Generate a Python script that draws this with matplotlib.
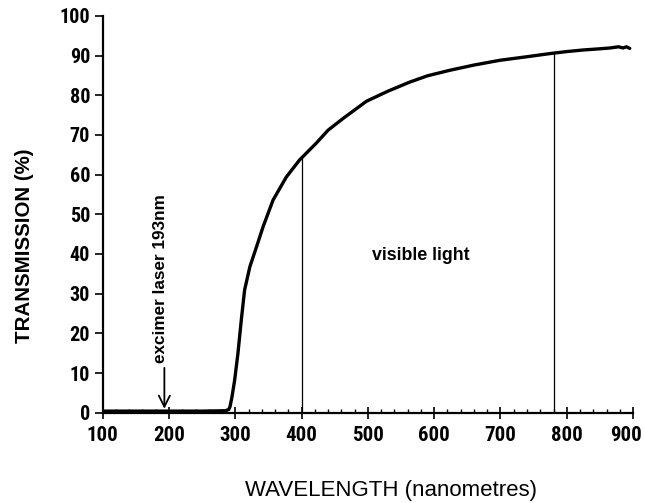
import matplotlib
matplotlib.use("Agg")
import matplotlib.pyplot as plt
from matplotlib import font_manager as fm
from matplotlib.transforms import ScaledTranslation
import numpy as np

# Data
wavelength = [100, 150, 200, 250, 285, 290, 292, 295, 299, 304, 309, 314, 322, 332, 342,
              357, 377, 397, 422, 440, 463, 498, 530, 563, 590, 624, 660, 699, 740,
              775, 800, 825, 850, 865, 878, 885, 890, 895]
transmission = [0.4, 0.4, 0.4, 0.4, 0.5, 0.8, 1.5, 4.0, 8.2, 15.0, 23.3, 30.9, 36.8, 41.8,
                46.9, 53.6, 59.4, 63.7, 67.9, 71.2, 74.2, 78.5, 81.0, 83.3, 84.9,
                86.3, 87.6, 88.8, 89.7, 90.5, 91.0, 91.4, 91.7, 91.9, 92.2, 91.9, 92.2, 91.8]
visible_bounds = [400, 780]
laser_nm = 193
x_ticks = [100, 200, 300, 400, 500, 600, 700, 800, 900]
y_ticks = [0, 10, 20, 30, 40, 50, 60, 70, 80, 90, 100]

names = {f.name for f in fm.fontManager.ttflist}
tick_family = "Liberation Sans"
for cand in ["Liberation Sans Narrow", "DejaVu Sans Condensed", "Roboto Condensed",
             "Open Sans Condensed"]:
    if cand in names:
        tick_family = cand
        break
narrow = tick_family != "Liberation Sans"

fig = plt.figure(figsize=(6.46, 5.03), dpi=100)
ax = fig.add_axes([0.159, 0.1795, 0.821, 0.789])

ax.plot(wavelength, transmission, color="black", lw=2.4, solid_capstyle="round",
        solid_joinstyle="round")
for b in visible_bounds:
    t = np.interp(b, wavelength, transmission)
    ax.plot([b, b], [0, t], color="black", lw=0.9)

ax.set_xlim(100, 900)
ax.set_ylim(0, 100)
ax.spines["top"].set_visible(False)
ax.spines["right"].set_visible(False)
ax.spines["left"].set_linewidth(1.6)
ax.spines["bottom"].set_linewidth(1.6)

ax.set_xticks(x_ticks)
ax.set_yticks(y_ticks)
ax.set_xticks(np.arange(100, 901, 20), minor=True)
ax.tick_params(axis="x", which="major", direction="inout", length=9, width=1.2, pad=5)
ax.tick_params(axis="x", which="minor", direction="in", length=3, width=1.0)
ax.tick_params(axis="y", which="major", direction="out", length=6, width=1.2, pad=3)
xfs = 15 if narrow else 13
for lab in ax.get_xticklabels():
    lab.set_fontfamily(tick_family)
    lab.set_fontweight("bold")
    lab.set_fontsize(xfs)
for lab in ax.get_yticklabels():
    lab.set_fontfamily(tick_family)
    lab.set_fontweight("bold")
    lab.set_fontsize(14.5)
last = ax.get_xticklabels()[-1]
last.set_transform(last.get_transform() + ScaledTranslation(-7 / 100, 0, fig.dpi_scale_trans))

ax.set_ylabel("TRANSMISSION (%)", fontfamily="Liberation Sans", fontweight="bold",
              fontsize=14.8, va="center")
ax.yaxis.set_label_coords(-0.147, 0.42)
ax.set_xlabel("WAVELENGTH (nanometres)", fontfamily="Liberation Sans",
              fontsize=16, va="center")
ax.xaxis.set_label_coords(0.543, -0.195)

ax.text(580, 39.5, "visible light", fontfamily="Liberation Sans", fontweight="bold",
        fontsize=12.8, ha="center", va="center")
ax.annotate("", xy=(laser_nm, 0.3), xytext=(laser_nm, 12.0),
            arrowprops=dict(arrowstyle="->", lw=1.3, color="black", mutation_scale=20))
ax.text(laser_nm - 6, 12.6, "excimer laser 193nm", rotation=90, fontfamily="Liberation Sans",
        fontweight="bold", fontsize=12.3, ha="center", va="bottom")

fig.savefig("out.png", dpi=100)
